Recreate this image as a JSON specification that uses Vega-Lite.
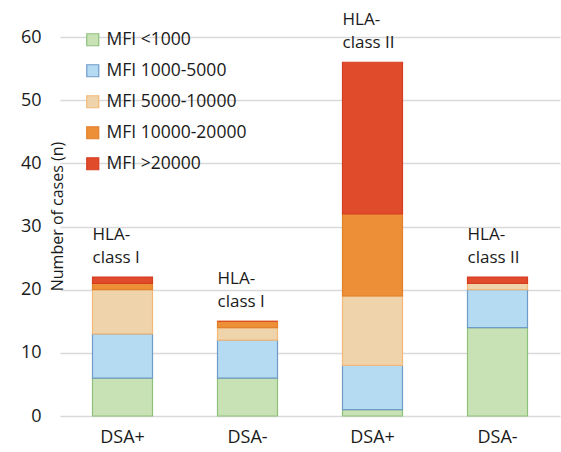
{
  "$schema": "https://vega.github.io/schema/vega-lite/v6.json",
  "autosize": {"type": "none"},
  "padding": {"left": 60, "top": 37, "right": 1, "bottom": 36},
  "width": 500,
  "height": 379,
  "background": "white",
  "config": {
    "font": "Open Sans",
    "view": {"stroke": null}
  },
  "datasets": {
    "bars": [
      {"pos": "1", "mfi": "MFI <1000", "o": 1, "n": 6},
      {"pos": "1", "mfi": "MFI 1000-5000", "o": 2, "n": 7},
      {"pos": "1", "mfi": "MFI 5000-10000", "o": 3, "n": 7},
      {"pos": "1", "mfi": "MFI 10000-20000", "o": 4, "n": 1},
      {"pos": "1", "mfi": "MFI >20000", "o": 5, "n": 1},
      {"pos": "2", "mfi": "MFI <1000", "o": 1, "n": 6},
      {"pos": "2", "mfi": "MFI 1000-5000", "o": 2, "n": 6},
      {"pos": "2", "mfi": "MFI 5000-10000", "o": 3, "n": 2},
      {"pos": "2", "mfi": "MFI 10000-20000", "o": 4, "n": 1},
      {"pos": "2", "mfi": "MFI >20000", "o": 5, "n": 0},
      {"pos": "3", "mfi": "MFI <1000", "o": 1, "n": 1},
      {"pos": "3", "mfi": "MFI 1000-5000", "o": 2, "n": 7},
      {"pos": "3", "mfi": "MFI 5000-10000", "o": 3, "n": 11},
      {"pos": "3", "mfi": "MFI 10000-20000", "o": 4, "n": 13},
      {"pos": "3", "mfi": "MFI >20000", "o": 5, "n": 24},
      {"pos": "4", "mfi": "MFI <1000", "o": 1, "n": 14},
      {"pos": "4", "mfi": "MFI 1000-5000", "o": 2, "n": 6},
      {"pos": "4", "mfi": "MFI 5000-10000", "o": 3, "n": 1},
      {"pos": "4", "mfi": "MFI 10000-20000", "o": 4, "n": 0},
      {"pos": "4", "mfi": "MFI >20000", "o": 5, "n": 1}
    ],
    "labels": [
      {"pos": "1", "total": 22, "label": "HLA-\nclass I"},
      {"pos": "2", "total": 15, "label": "HLA-\nclass I"},
      {"pos": "3", "total": 56, "label": "HLA-\nclass II"},
      {"pos": "4", "total": 22, "label": "HLA-\nclass II"}
    ]
  },
  "encoding": {
    "x": {
      "field": "pos",
      "type": "nominal",
      "scale": {"domain": ["1", "2", "3", "4"], "paddingInner": 0.52, "paddingOuter": 0.26},
      "axis": {
        "title": null,
        "labelAngle": 0,
        "labelExpr": "['DSA+','DSA-','DSA+','DSA-'][toNumber(datum.value)-1]",
        "labelFontSize": 18,
        "labelColor": "#1a1a1a",
        "labelPadding": 12,
        "ticks": false,
        "domain": false
      }
    }
  },
  "layer": [
    {
      "data": {"name": "bars"},
      "mark": {"type": "bar", "strokeWidth": 1.2},
      "encoding": {
        "y": {
          "field": "n",
          "type": "quantitative",
          "stack": "zero",
          "scale": {"domain": [0, 60], "nice": false},
          "axis": {
            "title": "Number of cases (n)",
            "titleFontSize": 16,
            "titleFontWeight": "normal",
            "titleColor": "#1a1a1a",
            "titleX": 5,
            "titleY": 179,
            "titleAngle": -90,
            "titleAlign": "center",
            "titleBaseline": "bottom",
            "values": [0, 10, 20, 30, 40, 50, 60],
            "labelFontSize": 18,
            "labelColor": "#1a1a1a",
            "labelPadding": 19,
            "ticks": false,
            "domain": false,
            "gridColor": "#d9d9d9",
            "gridWidth": 1.5
          }
        },
        "order": {"field": "o", "type": "quantitative", "sort": "ascending"},
        "color": {
          "field": "mfi",
          "type": "nominal",
          "title": null,
          "scale": {
            "domain": ["MFI <1000", "MFI 1000-5000", "MFI 5000-10000", "MFI 10000-20000", "MFI >20000"],
            "range": ["#c9e2b5", "#b5dbf2", "#efd4ab", "#ec8f36", "#e04b2b"]
          },
          "legend": {
            "orient": "none",
            "legendX": 24,
            "legendY": -6,
            "symbolType": "square",
            "symbolSize": 144,
            "symbolStrokeWidth": 1.2,
            "labelFontSize": 17.5,
            "labelColor": "#1a1a1a",
            "labelOffset": 5,
            "rowPadding": 12
          }
        },
        "stroke": {
          "field": "mfi",
          "type": "nominal",
          "title": null,
          "scale": {
            "domain": ["MFI <1000", "MFI 1000-5000", "MFI 5000-10000", "MFI 10000-20000", "MFI >20000"],
            "range": ["#8dc07a", "#6f9bc8", "#f3b877", "#e2802c", "#d63e22"]
          }
        }
      }
    },
    {
      "data": {"name": "labels"},
      "mark": {
        "type": "text",
        "align": "left",
        "baseline": "bottom",
        "dx": -30,
        "dy": -33,
        "fontSize": 17,
        "lineHeight": 23,
        "lineBreak": "\n",
        "color": "#1a1a1a"
      },
      "encoding": {
        "y": {"field": "total", "type": "quantitative"},
        "text": {"field": "label"}
      }
    }
  ]
}
